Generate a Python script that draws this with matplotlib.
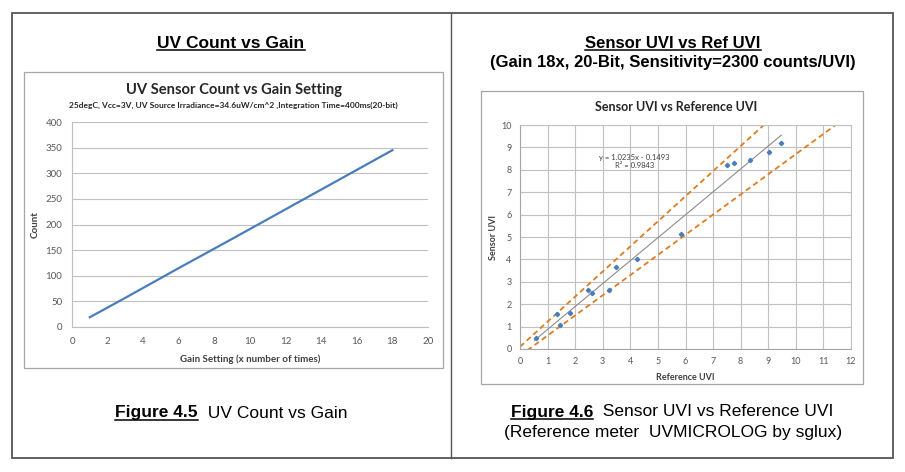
import matplotlib
matplotlib.use('Agg')
import matplotlib.pyplot as plt
import numpy as np
from matplotlib.lines import Line2D
from matplotlib.patches import Rectangle

# ---------------- data ----------------
gain_setting = [1, 3, 6, 9, 18]
uv_count = [19, 57, 115, 172, 345]

ref_uvi = [0.57, 1.34, 1.46, 1.80, 2.47, 2.62, 3.24, 3.47, 4.24, 5.85, 7.49, 7.75, 8.33, 9.04, 9.47]
sensor_uvi = [0.49, 1.58, 1.05, 1.62, 2.64, 2.48, 2.64, 3.68, 4.00, 5.13, 8.23, 8.32, 8.42, 8.78, 9.18]

trend_slope, trend_intercept = 1.0235, -0.1493
upper_slope, upper_intercept = 1.12, 0.10
lower_slope, lower_intercept = 0.90, -0.30

left_xticks = list(range(0, 21, 2))
left_yticks = list(range(0, 401, 50))
right_xticks = list(range(0, 13))
right_yticks = list(range(0, 11))

# ---------------- figure ----------------
W, H = 905, 472
fig = plt.figure(figsize=(W / 100, H / 100), dpi=100)
fig.patch.set_facecolor('white')

def fx(px):
    return px / W

def fy(py):
    return 1 - py / H

def box(x0, y0, x1, y1, color, lw):
    fig.add_artist(Rectangle((fx(x0), fy(y1)), fx(x1) - fx(x0), fy(y0) - fy(y1),
                             transform=fig.transFigure, fill=False, ec=color, lw=lw))

# outer frame and divider
box(12, 13, 893, 458, '#555555', 1.3)
fig.add_artist(Line2D([fx(451), fx(451)], [fy(13), fy(458)], transform=fig.transFigure,
                      color='#555555', lw=1.0))
# chart boxes
box(24, 72, 443, 368, '#A6A6A6', 0.9)
box(481, 91, 863, 384, '#A6A6A6', 0.9)

ARIAL = ['Liberation Sans', 'DejaVu Sans']
NARROW = ['Liberation Sans Narrow', 'Liberation Sans', 'DejaVu Sans']
CAL = ['Lato', 'DejaVu Sans']
tick_color = '#595959'

# ---------------- left chart ----------------
ax1 = fig.add_axes([fx(72), fy(327), (428 - 72) / W, (327 - 122) / H])
ax1.plot(gain_setting, uv_count, color='#4A7EBB', lw=1.6)
ax1.set_xlim(0, 20)
ax1.set_ylim(0, 400)
ax1.set_xticks(left_xticks)
ax1.set_yticks(left_yticks)
ax1.yaxis.grid(True, color='#C0C0C0', lw=0.8)
ax1.set_axisbelow(True)
for s in ['top', 'right']:
    ax1.spines[s].set_visible(False)
for s in ['left', 'bottom']:
    ax1.spines[s].set_color('#BFBFBF')
    ax1.spines[s].set_linewidth(0.8)
ax1.tick_params(length=0, pad=7, labelsize=7, labelcolor=tick_color)
for lab in ax1.get_xticklabels() + ax1.get_yticklabels():
    lab.set_family(CAL)
ax1.set_xlabel('Gain Setting (x number of times)', family=CAL, fontsize=7, fontweight='bold',
               color='#404040', labelpad=6)
ax1.set_ylabel('Count', family=CAL, fontsize=7, fontweight='bold', color='#404040', labelpad=4)

# ---------------- right chart ----------------
ax2 = fig.add_axes([fx(520), fy(349), (851 - 520) / W, (349 - 125) / H])
xs = np.array([0, 12.0])
ax2.plot(xs, upper_slope * xs + upper_intercept, color='#E07B20', lw=1.3, ls=(0, (3, 2)))
ax2.plot(xs, lower_slope * xs + lower_intercept, color='#E07B20', lw=1.3, ls=(0, (3, 2)))
tx = np.array([min(ref_uvi) - 0.05, max(ref_uvi)])
ax2.plot(tx, trend_slope * tx + trend_intercept, color='#8C8C8C', lw=0.8)
ax2.plot(ref_uvi, sensor_uvi, ls='none', marker='D', ms=2.2, color='#4A7EBB')
ax2.set_xlim(0, 12)
ax2.set_ylim(0, 10)
ax2.set_xticks(right_xticks)
ax2.set_yticks(right_yticks)
ax2.grid(True, color='#C0C0C0', lw=0.8)
ax2.set_axisbelow(True)
for s in ['top', 'right']:
    ax2.spines[s].set_color('#C0C0C0')
    ax2.spines[s].set_linewidth(0.8)
for s in ['left', 'bottom']:
    ax2.spines[s].set_color('#A6A6A6')
    ax2.spines[s].set_linewidth(0.8)
ax2.tick_params(length=0, pad=6, labelsize=6.5, labelcolor=tick_color)
for lab in ax2.get_xticklabels() + ax2.get_yticklabels():
    lab.set_family(CAL)
ax2.set_xlabel('Reference UVI', family=CAL, fontsize=6.5, fontweight='bold', color='#404040', labelpad=5)
ax2.set_ylabel('Sensor UVI', family=CAL, fontsize=6.5, fontweight='bold', color='#404040', labelpad=2)
ax2.text(4.15, 8.54, 'y = 1.0235x - 0.1493', family=CAL, fontsize=5.5, color='#404040', ha='center', va='center')
ax2.text(4.15, 8.17, 'R² = 0.9843', family=CAL, fontsize=5.5, color='#404040', ha='center', va='center')

# ---------------- titles ----------------
underline_list = []
t1 = fig.text(fx(231), fy(43), 'UV Count vs Gain', family=ARIAL, fontsize=12.5, fontweight='bold',
              ha='center', va='center')
underline_list.append(t1)
t2 = fig.text(fx(673), fy(43), 'Sensor UVI vs Ref UVI', family=ARIAL, fontsize=12, fontweight='bold',
              ha='center', va='center')
underline_list.append(t2)
fig.text(fx(673), fy(63), '(Gain 18x, 20-Bit, Sensitivity=2300 counts/UVI)', family=ARIAL,
         fontsize=12, fontweight='bold', ha='center', va='center')

fig.text(fx(234), fy(90), 'UV Sensor Count vs Gain Setting', family=CAL, fontsize=10.6,
         fontweight='bold', color='#262626', ha='center', va='center')
fig.text(fx(233), fy(105), '25degC, Vcc=3V, UV Source Irradiance=34.6uW/cm^2 ,Integration Time=400ms(20-bit)',
         family=CAL, fontsize=6, fontweight='bold', color='#262626', ha='center', va='center')
fig.text(fx(676), fy(107), 'Sensor UVI vs Reference UVI', family=CAL, fontsize=9,
         fontweight='bold', color='#262626', ha='center', va='center')

# ---------------- captions ----------------
fig.canvas.draw()
r = fig.canvas.get_renderer()

def caption(cx, cy, bold_txt, reg_txt, size):
    a = fig.text(0, fy(cy), bold_txt, family=NARROW, fontsize=size, fontweight='bold', ha='left', va='center')
    b = fig.text(0, fy(cy), reg_txt, family=NARROW, fontsize=size, ha='left', va='center')
    fig.canvas.draw()
    wa = a.get_window_extent(r).width
    wb = b.get_window_extent(r).width
    total = wa + wb
    x0 = cx - total / 2
    a.set_x(fx(x0))
    b.set_x(fx(x0 + wa))
    underline_list.append(a)

caption(231, 413, 'Figure 4.5', '  UV Count vs Gain', 12.5)
caption(672, 412, 'Figure 4.6', '  Sensor UVI vs Reference UVI', 12.5)
fig.text(fx(673), fy(432), '(Reference meter  UVMICROLOG by sglux)', family=NARROW, fontsize=12.5,
         ha='center', va='center')

fig.canvas.draw()
for t in underline_list:
    bb = t.get_window_extent(r)
    yline = bb.y0 + 0.5
    fig.add_artist(Line2D([bb.x0 / W, bb.x1 / W], [yline / H, yline / H],
                          transform=fig.transFigure, color='black', lw=1.1))

fig.savefig('out.png', dpi=100, facecolor='white')
